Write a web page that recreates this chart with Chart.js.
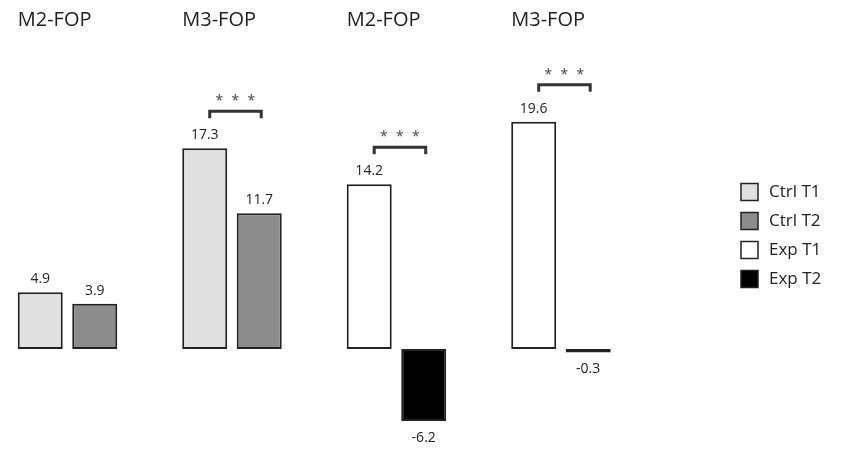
<!DOCTYPE html>
<html>
<head>
<meta charset="utf-8">
<script src="https://cdn.jsdelivr.net/npm/chart.js@4/dist/chart.umd.min.js"></script>
<style>
  html, body { margin: 0; padding: 0; background: #fff; }
  #wrap { width: 847px; height: 454px; position: relative; }
</style>
</head>
<body>
<div id="wrap"><canvas id="c"></canvas></div>
<script>
// ---- data ----
const categories = ['M2-FOP', 'M3-FOP', 'M2-FOP', 'M3-FOP'];
const seriesNames = ['Ctrl T1', 'Ctrl T2', 'Exp T1', 'Exp T2'];
const ctrlT1 = [4.9, 17.3, null, null];
const ctrlT2 = [3.9, 11.7, null, null];
const expT1 = [null, null, 14.2, 19.6];
const expT2 = [null, null, -6.2, -0.3];
const significance = ['', '***', '***', '***'];

const seriesValues = [ctrlT1, ctrlT2, expT1, expT2];
const seriesColors = ['#e0e0e0', '#8c8c8c', '#ffffff', '#000000'];
const FONT = "'Open Sans', 'DejaVu Sans', sans-serif";
const INK = '#222222';

const datasets = seriesValues.map((vals, i) => ({
  label: seriesNames[i],
  data: vals.map((v, j) => ({ x: j, y: v })),
  backgroundColor: seriesColors[i],
  borderColor: INK,
  borderWidth: 2,
  borderSkipped: false,
  skipNull: true,
  categoryPercentage: 0.6626,
  barPercentage: 0.8257
}));

function barsAt(chart, j) {
  const out = [];
  chart.data.datasets.forEach((ds, i) => {
    const v = seriesValues[i][j];
    if (v === null || v === undefined) return;
    const el = chart.getDatasetMeta(i).data[j];
    if (!el) return;
    const p = el.getProps(['x', 'y', 'base', 'width'], true);
    out.push(Object.assign({ v: v }, p));
  });
  return out.sort((a, b) => a.x - b.x);
}

const annotate = {
  id: 'annotate',
  afterDatasetsDraw(chart) {
    const ctx = chart.ctx;
    ctx.save();
    // value labels
    ctx.fillStyle = INK;
    ctx.textAlign = 'center';
    ctx.textBaseline = 'middle';
    ctx.font = '14px ' + FONT;
    categories.forEach((c, j) => {
      barsAt(chart, j).forEach(b => {
        const txt = b.v.toFixed(1);
        if (b.v >= 0) ctx.fillText(txt, b.x, b.y - 13);
        else ctx.fillText(txt, b.x, b.y + 17);
      });
    });
    // group titles
    ctx.textAlign = 'left';
    ctx.font = '20px ' + FONT;
    categories.forEach((c, j) => {
      const bs = barsAt(chart, j);
      if (!bs.length) return;
      ctx.fillText(c, bs[0].x - bs[0].width / 2, 20);
    });
    // significance brackets
    categories.forEach((c, j) => {
      const s = significance[j];
      if (!s) return;
      const bs = barsAt(chart, j);
      if (bs.length < 2) return;
      const x1 = bs[0].x + 5;
      const x2 = bs[1].x + 2;
      const top = Math.min(bs[0].y, bs[1].y, bs[0].base);
      const ly = top - 37;
      ctx.strokeStyle = '#333';
      ctx.lineWidth = 3;
      ctx.lineCap = 'butt';
      ctx.beginPath();
      ctx.moveTo(x1, ly + 7);
      ctx.lineTo(x1, ly);
      ctx.lineTo(x2, ly);
      ctx.lineTo(x2, ly + 7);
      ctx.stroke();
      ctx.fillStyle = '#444';
      ctx.textAlign = 'center';
      ctx.font = '14px ' + FONT;
      const n = s.length, mid = (x1 + x2) / 2, gap = 16;
      s.split('').forEach((ch, k) => {
        ctx.fillText(ch, mid + (k - (n - 1) / 2) * gap, ly - 10);
      });
      ctx.fillStyle = INK;
    });
    ctx.restore();
  },
  afterDraw(chart) {
    const ctx = chart.ctx;
    ctx.save();
    ctx.font = '17px ' + FONT;
    ctx.textBaseline = 'middle';
    ctx.textAlign = 'left';
    seriesNames.forEach((name, i) => {
      const cy = 192 + i * 29;
      ctx.fillStyle = seriesColors[i];
      ctx.fillRect(741, cy - 8.5, 17, 17);
      ctx.strokeStyle = INK;
      ctx.lineWidth = 1.5;
      ctx.strokeRect(741, cy - 8.5, 17, 17);
      ctx.fillStyle = INK;
      ctx.fillText(name, 769, cy);
    });
    ctx.restore();
  }
};

new Chart(document.getElementById('c'), {
  type: 'bar',
  data: { datasets: datasets },
  options: {
    responsive: true,
    maintainAspectRatio: false,
    animation: false,
    layout: { padding: 0 },
    plugins: { legend: { display: false }, tooltip: { enabled: false } },
    scales: {
      x: {
        type: 'linear', min: -0.4103, max: 4.739, offset: false, display: false,
        grid: { display: false, offset: false },
        afterBuildTicks: (s) => { s.ticks = categories.map((c, j) => ({ value: j })); }
      },
      y: { type: 'linear', min: -9.05, max: 30.09, display: false, grid: { display: false } }
    }
  },
  plugins: [annotate]
});
</script>
</body>
</html>
